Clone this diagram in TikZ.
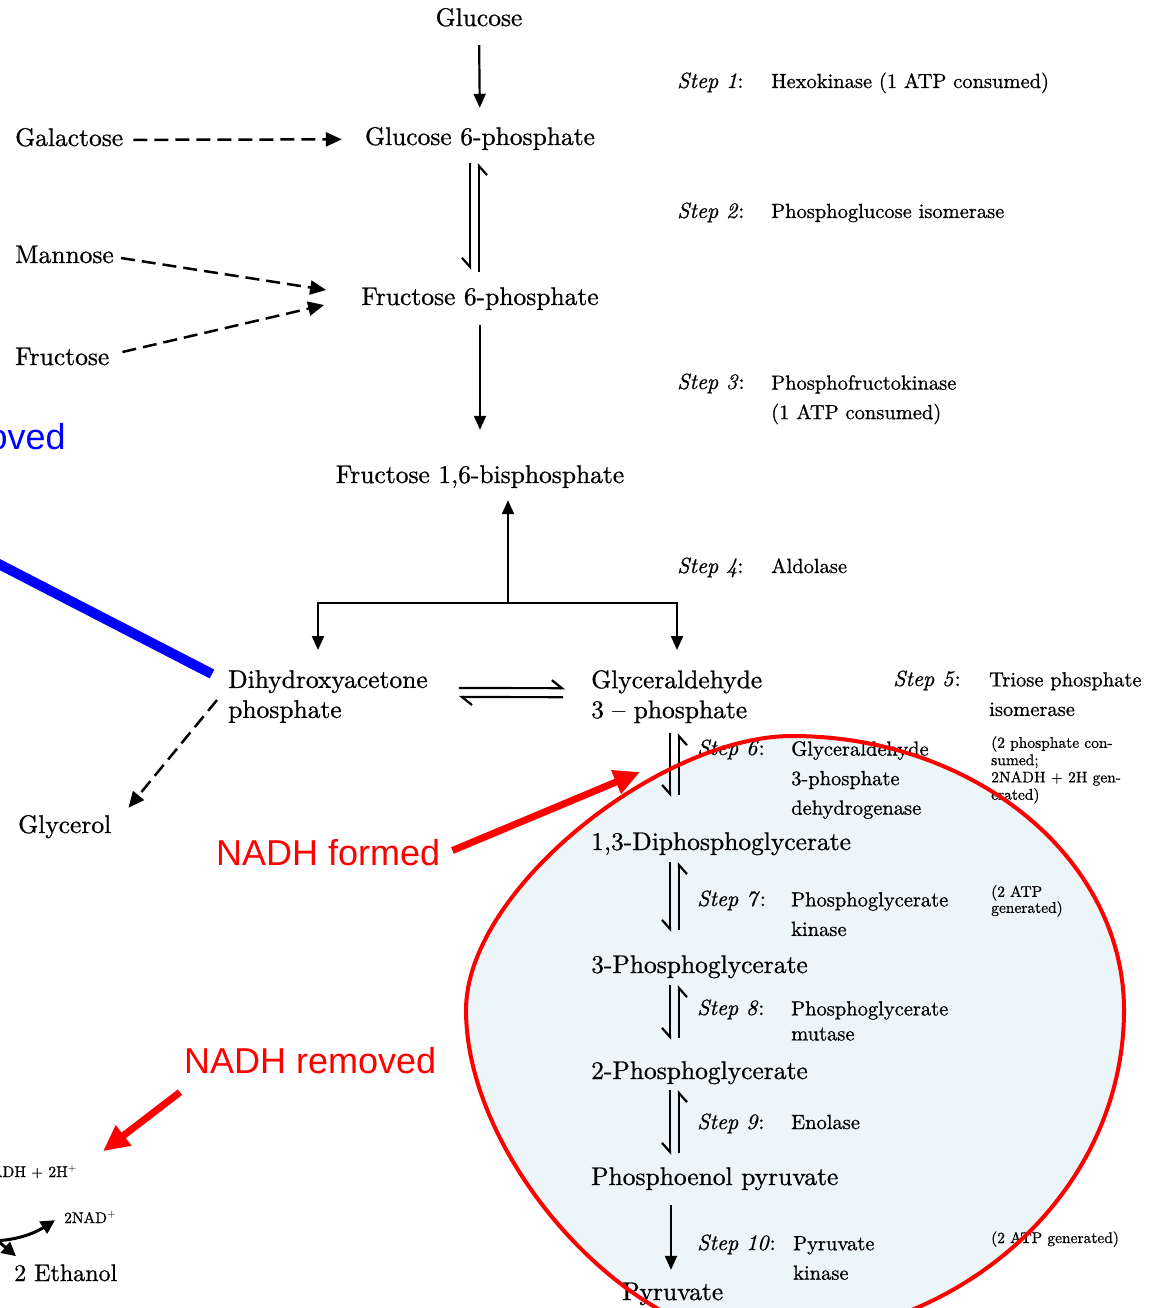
\documentclass[tikz,border=0pt]{standalone}
\usepackage{fontspec}
\setmainfont{lmroman10-regular.otf}[ItalicFont=lmroman10-italic.otf, BoldFont=lmroman10-bold.otf, FakeBold=0.8]
\newfontfamily\annfont{Liberation Sans}
\usetikzlibrary{arrows.meta}
\definecolor{circfill}{RGB}{236,245,247}
\definecolor{annred}{RGB}{255,0,0}
\definecolor{annblue}{RGB}{0,0,255}
\tikzset{
  lab/.style={font=\fontsize{25.5}{30}\selectfont, inner sep=0pt, text height=17pt, text depth=5pt},
  mlab/.style={font=\fontsize{25.5}{30}\selectfont, inner sep=0pt, align=left, anchor=north west},
  stlab/.style={font=\fontsize{22}{25}\selectfont, inner sep=0pt, anchor=base west},
  enz/.style={font=\fontsize{20.5}{29.5}\selectfont, inner sep=0pt, anchor=base west},
  enzm/.style={font=\fontsize{20.5}{29.5}\selectfont, inner sep=0pt, align=left, anchor=north west},
  note/.style={font=\fontsize{15.5}{17.3}\selectfont, inner sep=0pt, align=left, anchor=north west},
  ann/.style={font=\annfont\fontsize{36}{40}\selectfont, inner sep=0pt, text height=26pt, text depth=7pt},
  arr/.style={line width=2.2pt, -{Triangle[length=14pt,width=12pt]}},
  dasharr/.style={line width=2.5pt, dash pattern=on 14pt off 7pt, -{Triangle[length=16pt,width=14pt]}},
  hdn/.style={line width=2.2pt, -{Straight Barb[harpoon,swap,length=9pt,width=16pt]}},
  hup/.style={line width=2.2pt, -{Straight Barb[harpoon,swap,length=9pt,width=16pt]}},
  hrt/.style={line width=2.2pt, -{Straight Barb[harpoon,length=10pt,width=16pt]}},
  hlf/.style={line width=2.2pt, -{Straight Barb[harpoon,length=10pt,width=16pt]}},
  redarr/.style={annred, line width=7pt, -{Triangle[length=26pt,width=24pt]}},
  blueline/.style={annblue, line width=10pt},
  smallarr/.style={line width=3pt, -{Triangle[length=14pt,width=14pt]}},
}
\begin{document}
\begin{tikzpicture}[x=1pt,y=-1pt]
\useasboundingbox (0,0) rectangle (1163,1308);
\clip (0,0) rectangle (1163,1308);
\fill[white] (0,0) rectangle (1163,1308);
% highlighted region (fill)
\coordinate (hlL) at (466,1010);
\coordinate (hlT) at (792,736);
\coordinate (hlR) at (1124,1010);
\coordinate (hlB) at (760,1340);
\fill[circfill] (hlL) .. controls (466,890) and (660,736) .. (hlT)
  .. controls (975,736) and (1124,859) .. (hlR)
  .. controls (1124,1192) and (961,1340) .. (hlB)
  .. controls (630,1340) and (466,1160) .. (hlL) -- cycle;

% main chain
\node[lab] (glc) at (479,26) [anchor=base] {Glucose};
\node[lab] (g6p) at (480,145) [anchor=base] {Glucose 6-phosphate};
\node[lab] (f6p) at (480,305) [anchor=base] {Fructose 6-phosphate};
\node[lab] (fbp) at (480,483) [anchor=base] {Fructose 1,6-bisphosphate};
\node[lab] (galac) at (15,146) [anchor=base west] {Galactose};
\node[lab] (mann) at (15,263) [anchor=base west] {Mannose};
\node[lab] (fruc) at (15,365) [anchor=base west] {Fructose};
\node[mlab] (dhap) at (228,670) {Dihydroxyacetone\\phosphate};
\node[mlab] (gap) at (591,670) {Glyceraldehyde\\3 \textendash{} phosphate};
\node[lab] (glyc) at (18,833) [anchor=base west] {Glycerol};
\node[lab] (dpg) at (591,850) [anchor=base west] {1,3-Diphosphoglycerate};
\node[lab] (pg3) at (591,973) [anchor=base west] {3-Phosphoglycerate};
\node[lab] (pg2) at (591,1079) [anchor=base west] {2-Phosphoglycerate};
\node[lab] (pep) at (591,1185) [anchor=base west] {Phosphoenol pyruvate};
\node[lab] (pyr) at (622,1300) [anchor=base west] {Pyruvate};

% step labels
\node[stlab] (s1) at (677,88) {\itshape Step 1\/\upshape:};
\node[enz] (e1) at (771,88) {Hexokinase (1 ATP consumed)};
\node[stlab] (s2) at (677,218) {\itshape Step 2\/\upshape:};
\node[enz] (e2) at (771,218) {Phosphoglucose isomerase};
\node[stlab] (s3) at (677,389) {\itshape Step 3\/\upshape:};
\node[enzm] (e3) at (771,375) {Phosphofructokinase\\(1 ATP consumed)};
\node[stlab] (s4) at (677,573) {\itshape Step 4\/\upshape:};
\node[enz] (e4) at (771,573) {Aldolase};
\node[stlab] (s5) at (893,686) {\itshape Step 5\/\upshape:};
\node[enzm] (e5) at (989,672) {Triose phosphate\\isomerase};
\node[note] (n5) at (991,736) {(2 phosphate con-\\sumed;\\2NADH + 2H gen-\\erated)};
\node[stlab] (s6) at (697,755) {\itshape Step 6\/\upshape:};
\node[enzm] (e6) at (791,741) {Glyceraldehyde\\3-phosphate\\dehydrogenase};
\node[stlab] (s7) at (697,906) {\itshape Step 7\/\upshape:};
\node[enzm] (e7) at (791,892) {Phosphoglycerate\\kinase};
\node[note, font=\fontsize{15.5}{16}\selectfont] (n7) at (991,885) {(2 ATP\\generated)};
\node[stlab] (s8) at (697,1015) {\itshape Step 8\/\upshape:};
\node[enzm, font=\fontsize{20.5}{25}\selectfont] (e8) at (791,1001) {Phosphoglycerate\\mutase};
\node[stlab] (s9) at (697,1129) {\itshape Step 9\/\upshape:};
\node[enz] (e9) at (791,1129) {Enolase};
\node[stlab] (s10) at (697,1250) {\itshape Step 10\/\upshape:};
\node[enzm] (e10) at (793,1236) {Pyruvate\\kinase};
\node[note, anchor=base west] (n10) at (991,1243) {(2 ATP generated)};

% bottom-left fermentation fragment
\node[note, anchor=base east] (nadh2) at (77,1177) {2NADH + 2H$^+$};
\node[note, anchor=base west] (nad) at (64,1223) {2NAD$^+$};
\node[font=\fontsize{24}{28}\selectfont, inner sep=0pt, anchor=base west] (eth) at (14,1281) {2 Ethanol};
\coordinate (offA) at (-30,1240);
\coordinate (offB) at (-20,1226);
\draw[smallarr] (offA) .. controls (5,1244) and (30,1236) .. ([shift={(-9,3)}]nad.west);
\draw[smallarr] (offB) -- ([shift={(2,-8)}]eth.north west);

% arrows of the main chain
\draw[arr, shorten <=14pt, shorten >=20pt] (glc.south) -- (g6p.north);
\draw[hdn, shorten <=13pt, shorten >=18pt] ([xshift=-10]g6p.south) -- ([xshift=-10]f6p.north);
\draw[hup, shorten <=16pt, shorten >=13pt] ([xshift=-1]f6p.north) -- ([xshift=-1]g6p.south);
\draw[arr, shorten <=15pt, shorten >=36pt] (f6p.south) -- (fbp.north);
\draw[dasharr, shorten <=10pt, shorten >=23pt] (galac) -- (g6p);
\draw[dasharr] ([shift={(7,1)}]mann.east) -- ([shift={(-35,-9)}]f6p.west);
\draw[dasharr] ([shift={(13,-7)}]fruc.east) -- ([shift={(-37,6)}]f6p.west);

% aldolase split
\coordinate (split) at (508,603);
\coordinate (dhapin) at (318,650);
\coordinate (gapin) at (677,650);
\draw[arr, shorten >=12pt] (split) -- (split |- fbp.south);
\draw[arr] (split) -| (dhapin);
\draw[arr] (split) -| (gapin);

% triose phosphate isomerase
\draw[hrt] ([shift={(31,-8.5)}]dhap.east) -- ([shift={(-26,-8.5)}]gap.west);
\draw[hlf] ([shift={(-28,0.5)}]gap.west) -- ([shift={(31,0.5)}]dhap.east);
\draw[dasharr] ([shift={(-11,3.5)}]dhap.west) -- ([shift={(17,-8)}]glyc.north east);

% lower steps
\coordinate (cL) at (670,0);
\coordinate (cR) at (679,0);
\draw[hdn, shorten <=10pt, shorten >=36pt] (gap.south -| cL) -- (dpg.north -| cL);
\draw[hup, shorten <=38pt, shorten >=10pt] (dpg.north -| cR) -- (gap.south -| cR);
\draw[hdn, shorten <=7pt, shorten >=24pt] (dpg.south -| cL) -- (pg3.north -| cL);
\draw[hup, shorten <=26pt, shorten >=7pt] (pg3.north -| cR) -- (dpg.south -| cR);
\draw[hdn, shorten <=7pt, shorten >=22pt] (pg3.south -| cL) -- (pg2.north -| cL);
\draw[hup, shorten <=24pt, shorten >=7pt] (pg2.north -| cR) -- (pg3.south -| cR);
\draw[hdn, shorten <=6pt, shorten >=13pt] (pg2.south -| cL) -- (pep.north -| cL);
\draw[hup, shorten <=15pt, shorten >=6pt] (pep.north -| cR) -- (pg2.south -| cR);
\coordinate (cM) at (671,0);
\draw[arr, shorten <=15pt, shorten >=13pt] (pep.south -| cM) -- (pyr.north -| cM);

% highlighted region (outline)
\draw[annred, line width=4pt] (hlL) .. controls (466,890) and (660,736) .. (hlT)
  .. controls (975,736) and (1124,859) .. (hlR)
  .. controls (1124,1192) and (961,1340) .. (hlB)
  .. controls (630,1340) and (466,1160) .. (hlL) -- cycle;

% annotations
\node[ann, text=annred, anchor=base west] (nadhf) at (216,865) {NADH formed};
\node[ann, text=annred, anchor=base west] (nadhr) at (184,1073) {NADH removed};
\node[ann, text=annblue, anchor=base east] (nadhb) at (66,449) {NADH removed};
\coordinate (nadhtip) at (640,772);
\draw[redarr] ([shift={(12,-5)}]nadhf.east) -- (nadhtip);
\draw[redarr] ([shift={(-4,12)}]nadhr.south west) -- ([shift={(26,-14)}]nadh2.north east);
\coordinate (bluestart) at (-40,544);
\draw[blueline] (bluestart) -- ([shift={(-16,4)}]dhap.north west);
\end{tikzpicture}
\end{document}
